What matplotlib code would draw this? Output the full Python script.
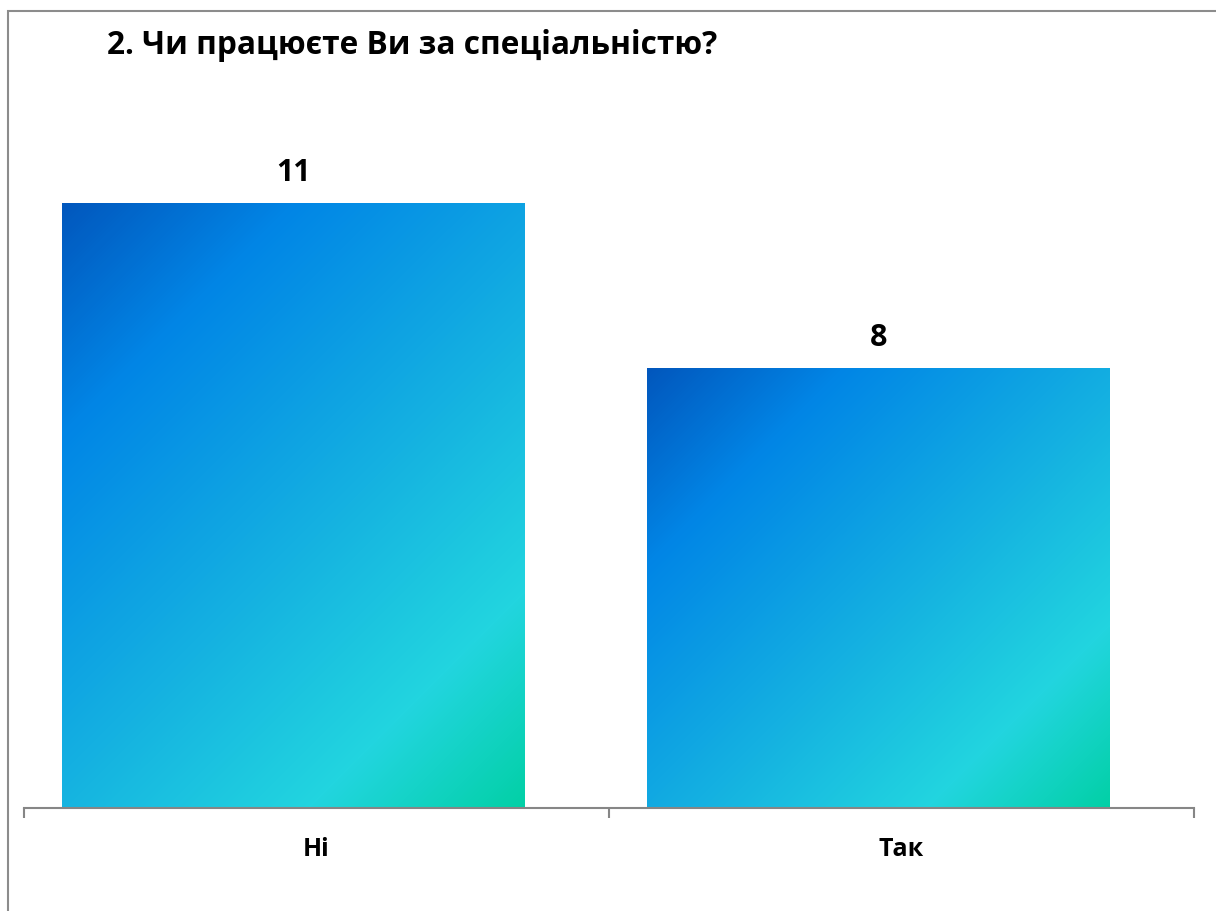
import numpy as np
import matplotlib
matplotlib.use("Agg")
import matplotlib.pyplot as plt
from matplotlib.colors import LinearSegmentedColormap
from matplotlib.patches import Rectangle

# chart data
title = "2. Чи працюєте Ви за спеціальністю?"
categories = ["Ні", "Так"]
counts = [11, 8]

plt.rcParams['font.family'] = ['Open Sans', 'DejaVu Sans']

W, H = 1216, 911
fig = plt.figure(figsize=(W / 100, H / 100), dpi=100)
fig.patch.set_facecolor("white")

# outer frame (only top and left edges fall inside the picture)
fig.add_artist(Rectangle((8 / W, -0.1), 1.2, 1 - 11 / H + 0.1, transform=fig.transFigure,
                         fill=False, edgecolor="#8c8c8c", linewidth=1.5))

ax = fig.add_axes([24 / W, 1 - 808 / H, 1170 / W, 660 / H])
ax.set_xlim(-0.5, len(categories) - 0.5)
ax.set_ylim(0, 12)

x = np.arange(len(categories))
# bars sit slightly left of the category centre, as in the original
bars = ax.bar(x - 0.04, counts, width=0.79, color="none", edgecolor="none")

# diagonal gradient fill, top-left dark blue -> bottom-right green
grad = LinearSegmentedColormap.from_list("grad", [
    (0.0, "#0257bd"),
    (0.22, "#0186e6"),
    (0.55, "#15b2e1"),
    (0.80, "#22d5df"),
    (1.0, "#02d0a6"),
])
for b in bars:
    x0, w, h = b.get_x(), b.get_width(), b.get_height()
    # pixel size of the bar so the band runs at 45 degrees on screen
    p0 = ax.transData.transform((x0, 0))
    p1 = ax.transData.transform((x0 + w, h))
    wp, hp = int(abs(p1[0] - p0[0])), int(abs(p1[1] - p0[1]))
    xx, yy = np.meshgrid(np.arange(wp), np.arange(hp))
    t = (xx + yy) / float(wp + hp)   # row 0 = top of bar
    ax.imshow(t, cmap=grad, extent=(x0, x0 + w, 0, h), aspect="auto",
              origin="upper", interpolation="bilinear", zorder=2)
    ax.text(x0 + w / 2, h + 0.27, str(int(h)), ha="center", va="bottom",
            fontsize=22, fontweight="bold", color="black")

ax.set_ylim(0, 12)
ax.set_xlim(-0.5, len(categories) - 0.5)

for s in ["top", "right", "left"]:
    ax.spines[s].set_visible(False)
ax.spines["bottom"].set_color("#868686")
ax.spines["bottom"].set_linewidth(1.5)
ax.set_yticks([])

ax.set_xticks(x)
ax.set_xticklabels(categories, fontsize=18, fontweight="bold")
ax.tick_params(axis="x", which="major", length=0, pad=21)
ax.set_xticks(np.arange(len(categories) + 1) - 0.5, minor=True)
ax.tick_params(axis="x", which="minor", length=7.5, width=1.5, color="#868686", direction="out")

fig.text(107 / W, 1 - 54 / H, title, ha="left", va="baseline",
         fontsize=22.8, fontweight="bold", color="black")

fig.savefig("out.png", dpi=100)
